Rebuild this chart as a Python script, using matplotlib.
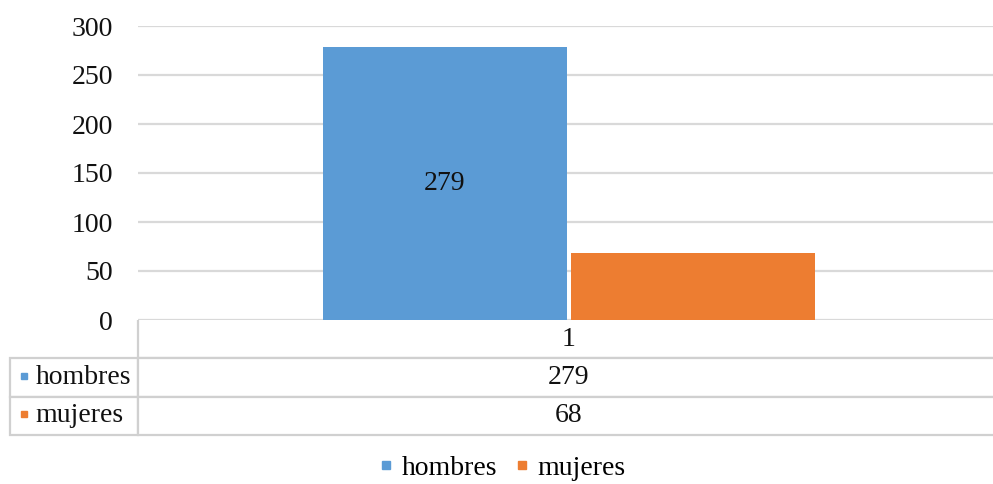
import matplotlib.pyplot as plt
from matplotlib.lines import Line2D

# Data
categories = ["1"]
series_names = ["hombres", "mujeres"]
hombres = [279]
mujeres = [68]
colors = ["#5B9BD5", "#ED7D31"]
y_ticks = [0, 50, 100, 150, 200, 250, 300]

plt.rcParams["font.family"] = ["Liberation Serif", "DejaVu Serif"]
plt.rcParams["font.size"] = 20

W, H = 993, 484
fig = plt.figure(figsize=(W / 100, H / 100), dpi=100)

# Axes position in pixels: left 138, right 1000, top 26, bottom 320
left, right, top, bottom = 138, 1000, 26, 320
ax = fig.add_axes([left / W, 1 - bottom / H, (right - left) / W, (bottom - top) / H])

# Bars
bar_w = 0.283
gap = 0.0025
x = range(len(categories))
b1 = ax.bar([i - bar_w / 2 - gap for i in x], hombres, width=bar_w,
            color=colors[0], zorder=3, label=series_names[0])
b2 = ax.bar([i + bar_w / 2 + gap for i in x], mujeres, width=bar_w,
            color=colors[1], zorder=3, label=series_names[1])
ax.bar_label(b1, label_type="center", fontsize=20, color="#111111")

ax.set_xlim(-0.5, 0.5)
ax.set_ylim(0, 300)
ax.set_yticks(y_ticks)
ax.set_xticks([])
ax.tick_params(axis="y", length=0, pad=18, labelcolor="#111111")
ax.yaxis.grid(True, color="#D9D9D9", linewidth=1.6, zorder=0)
for s in ax.spines.values():
    s.set_visible(False)

# Data table below the plot
ax_h = bottom - top
ax_w = right - left
tbl_left = 10
tbl_bottom = 435
cell_text = [["", categories[0]],
             [series_names[0], str(hombres[0])],
             [series_names[1], str(mujeres[0])]]
tbl = ax.table(cellText=cell_text,
               colWidths=[(left - tbl_left) / ax_w, 1.0],
               cellLoc="center",
               bbox=[-(left - tbl_left) / ax_w, -(tbl_bottom - bottom) / ax_h,
                     (right - tbl_left) / ax_w, (tbl_bottom - bottom) / ax_h])
tbl.auto_set_font_size(False)
for (r, c), cell in tbl.get_celld().items():
    cell.set_edgecolor("#D0D0D0")
    cell.set_linewidth(1.6)
    cell.set_fontsize(20)
    cell.get_text().set_color("#111111")
    if r == 0 and c == 0:
        cell.visible_edges = ""
    elif r == 0:
        cell.visible_edges = "LB"
    if c == 0 and r > 0:
        cell.get_text().set_horizontalalignment("left")
        cell.PAD = 0.2

# legend keys inside the row label cells
for i, col in enumerate(colors):
    yy = -(357 + 38 * i + 19 - bottom) / ax_h
    ax.plot([-(left - 24) / ax_w], [yy], marker="s", markersize=5, color=col,
            transform=ax.transAxes, clip_on=False)

# Legend at the bottom
handles = [Line2D([], [], marker="s", linestyle="", markersize=5.5, color=c)
           for c in colors]
fig.legend(handles, series_names, loc="center", bbox_to_anchor=(0.506, 1 - 468 / H),
           ncol=2, frameon=False, fontsize=20, handlelength=0.5,
           handletextpad=0.3, columnspacing=0.65)

fig.savefig("out.png", dpi=100)
